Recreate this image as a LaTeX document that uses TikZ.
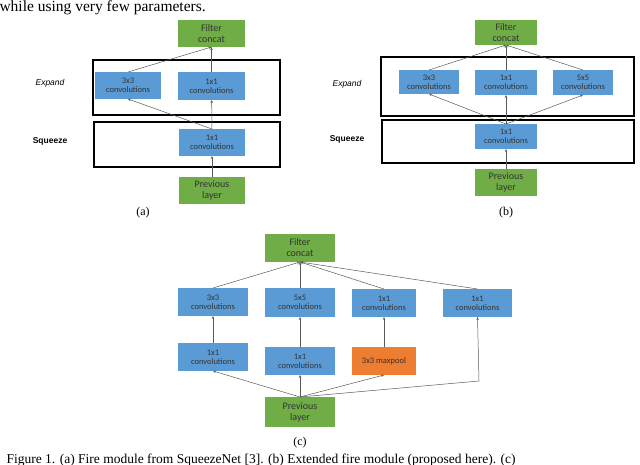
\documentclass[tikz,border=0pt]{standalone}
\usepackage{fontspec}
\setmainfont{Liberation Serif}
\newfontfamily\boxfont{Carlito}
\newfontfamily\lblfont{Liberation Sans}
\usetikzlibrary{arrows.meta}
\definecolor{cblue}{HTML}{5B9BD5}
\definecolor{cgreen}{HTML}{70AD47}
\definecolor{corange}{HTML}{ED7D31}
\definecolor{ctext}{HTML}{333333}
\begin{document}
\begin{tikzpicture}[x=1pt,y=-1pt,
  bx/.style={draw=none,inner sep=0pt,align=center,font=\boxfont\fontsize{8.5}{9}\selectfont,text=ctext,line width=0pt},
  bl/.style={bx,fill=cblue},
  gr/.style={bx,fill=cgreen,font=\boxfont\fontsize{10}{11}\selectfont},
  og/.style={bx,fill=corange,text=ctext},
  frame/.style={draw=black,line width=1.2pt},
  ar/.style={draw=gray!70!black,line width=0.5pt,-{Stealth[length=3pt,width=2.5pt]}},
  lab/.style={font=\lblfont\fontsize{8.5}{10}\selectfont},
  figcap/.style={font=\fontsize{12}{14}\selectfont}]
\useasboundingbox (0,0) rectangle (640,465);
\clip (0,0) rectangle (640,465);
\node[anchor=west,font=\fontsize{15.5}{17}\selectfont] (top) at (-4,8) {while using very few parameters.};
% (a)
\draw[frame] (93,60) rectangle (280,115);
\draw[frame] (94,122) rectangle (280,167);
\node[gr,minimum width=67pt,minimum height=27pt] (afc) at (211.5,33.5) {Filter\\concat};
\node[bl,minimum width=66pt,minimum height=27pt] (ae3) at (128,85.5) {3x3\\convolutions};
\node[bl,minimum width=67pt,minimum height=28pt] (ae1) at (211.5,86) {1x1\\convolutions};
\node[bl,minimum width=66pt,minimum height=27pt] (as1) at (212,142.5) {1x1\\convolutions};
\node[gr,minimum width=66pt,minimum height=27pt] (apl) at (212,190.5) {Previous\\layer};
\node[lab,font=\lblfont\itshape\fontsize{8.5}{10}\selectfont] (aexp) at (50,83) {Expand};
\node[lab,font=\lblfont\bfseries\fontsize{8.5}{10}\selectfont] (asq) at (50,141) {Squeeze};
\node[figcap] (acap) at (143,213) {(a)};
\draw[ar] (apl) -- (as1);
\draw[ar] (as1.north) -- (ae1);
\draw[ar] (as1.north) -- (ae3.south);
\draw[ar] (ae1) -- (afc);
\draw[ar] (ae3.north) -- (afc.south);
% (b)
\draw[frame] (381,57) rectangle (634,116);
\draw[frame] (382,120) rectangle (634,163);
\node[gr,minimum width=62pt,minimum height=25pt] (bfc) at (506,32.5) {Filter\\concat};
\node[bl,minimum width=60pt,minimum height=24pt] (be3) at (429,82) {3x3\\convolutions};
\node[bl,minimum width=62pt,minimum height=25pt] (be1) at (506,82.5) {1x1\\convolutions};
\node[bl,minimum width=60pt,minimum height=25pt] (be5) at (583,82.5) {5x5\\convolutions};
\node[bl,minimum width=62pt,minimum height=25pt] (bs1) at (506,136.5) {1x1\\convolutions};
\node[gr,minimum width=62pt,minimum height=27pt] (bpl) at (506,182.5) {Previous\\layer};
\node[lab,font=\lblfont\itshape\fontsize{8.5}{10}\selectfont] (bexp) at (347,84) {Expand};
\node[lab,font=\lblfont\bfseries\fontsize{8.5}{10}\selectfont] (bsq) at (347,139) {Squeeze};
\node[figcap] (bcap) at (506,213) {(b)};
\draw[ar] (bpl) -- (bs1);
\draw[ar] (bs1.north) -- (be1);
\draw[ar] (bs1.north) -- (be3.south);
\draw[ar] (bs1.north) -- (be5.south);
\draw[ar] (be1) -- (bfc);
\draw[ar] (be3.north) -- (bfc.south);
\draw[ar] (be5.north) -- (bfc.south);
% (c)
\node[gr,minimum width=70pt,minimum height=28pt] (cfc) at (300,248) {Filter\\concat};
\node[bl,minimum width=70pt,minimum height=28pt] (c13) at (213,302) {3x3\\convolutions};
\node[bl,minimum width=70pt,minimum height=29pt] (c15) at (300,302.5) {5x5\\convolutions};
\node[bl,minimum width=64pt,minimum height=28pt] (c11) at (384,303) {1x1\\convolutions};
\node[bl,minimum width=69pt,minimum height=28pt] (c1r) at (477.5,303) {1x1\\convolutions};
\node[bl,minimum width=70pt,minimum height=28pt] (c21) at (213,357) {1x1\\convolutions};
\node[bl,minimum width=70pt,minimum height=28pt] (c22) at (300,361) {1x1\\convolutions};
\node[og,minimum width=64pt,minimum height=28pt] (c2m) at (384,361) {3x3 maxpool};
\node[gr,minimum width=70pt,minimum height=30pt] (cpl) at (300,412) {Previous\\layer};
\node[figcap] (ccap) at (300,443) {(c)};
\coordinate (ctr) at (479,381);
\draw[ar] (cpl.north) -- (c21.south);
\draw[ar] (cpl) -- (c22);
\draw[ar] (cpl.north) -- (c2m.south);
\draw[ar] (cpl.north) -- (ctr) -- (c1r.south);
\draw[ar] (c21) -- (c13);
\draw[ar] (c22) -- (c15);
\draw[ar] (c2m) -- (c11);
\draw[ar] (c13.north) -- (cfc.south);
\draw[ar] (c15) -- (cfc);
\draw[ar] (c11.north) -- (cfc.south);
\draw[ar] (c1r.north) -- (cfc.south);
\node[anchor=west,font=\fontsize{13.5}{15}\selectfont] (fcap) at (3,460) {Figure 1. (a) Fire module from SqueezeNet [3]. (b) Extended fire module (proposed here). (c)};
\end{tikzpicture}
\end{document}
